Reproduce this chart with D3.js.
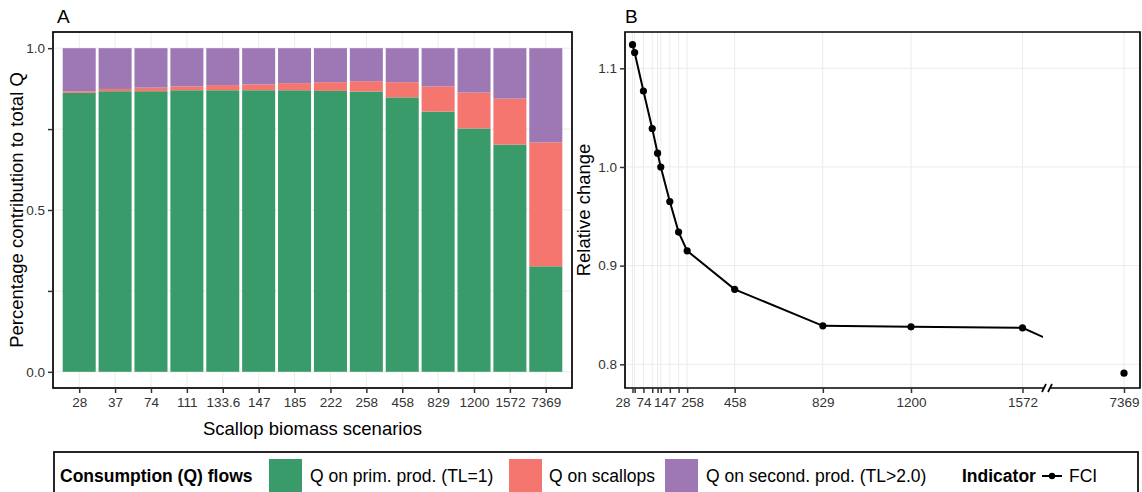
<!DOCTYPE html>
<html><head><meta charset="utf-8">
<script src="https://cdn.jsdelivr.net/npm/d3@7"></script>
<style>body{margin:0;background:#fff} text{font-family:"Liberation Sans",Arial,sans-serif}</style>
</head><body><svg id="chart" width="1142" height="492"></svg>
<script>
// ---------- data ----------
const categories = ["28","37","74","111","133.6","147","185","222","258","458","829","1200","1572","7369"];
const qPrimProd   = [0.862,0.867,0.867,0.870,0.870,0.870,0.870,0.868,0.866,0.848,0.804,0.752,0.702,0.326];
const qScallops   = [0.005,0.007,0.011,0.012,0.016,0.018,0.022,0.027,0.032,0.047,0.078,0.111,0.142,0.383];
const qSecondProd = [0.133,0.126,0.122,0.118,0.114,0.112,0.108,0.105,0.102,0.105,0.118,0.137,0.156,0.291];
const seriesKeys  = ["prim","scal","sec"];
const seriesNames = ["Q on prim. prod. (TL=1)","Q on scallops","Q on second. prod. (TL>2.0)"];
const yTicksA = [0,0.25,0.5,0.75,1];
const yTickLabelsA = ["0.0","","0.5","","1.0"];
const biomass = [28,37,74,111,133.6,147,185,222,258,458,829,1200,1572,7369];
const fci = [1.124,1.116,1.077,1.039,1.014,1.000,0.965,0.934,0.915,0.876,0.839,0.838,0.837,0.791];
const xLabelsB = [28,74,147,258,458,829,1200,1572,7369];
const yTicksB = [0.8,0.9,1.0,1.1];

// ---------- styles ----------
const colors = {prim:"#389B69", scal:"#F4766F", sec:"#9E78B5"};
const gridCol = "#EBEBEB", tickCol = "#333", textCol = "#333";
const labelNudgeB = {28:-10, 74:0, 147:4, 258:5};
const titleSize = 18.5, legendSize = 17.5, tickSize = "13.5px";

const svg = d3.select("#chart");
const A = {l:53, r:572, t:32, b:388};
const B = {l:625, r:1140, t:32, b:388};

// ---------- Panel A ----------
const xA = d3.scalePoint().domain(categories).range([A.l, A.r]).padding(0.73);
const yA = d3.scaleLinear().domain([-0.05, 1.05]).range([A.b, A.t]);
const bw = xA.step() * 0.92;

const gA = svg.append("g");
gA.append("g").selectAll("line").data(categories).join("line")
  .attr("x1", d => xA(d)).attr("x2", d => xA(d)).attr("y1", A.t).attr("y2", A.b)
  .attr("stroke", gridCol).attr("stroke-width", 1);
gA.append("g").selectAll("line").data(yTicksA).join("line")
  .attr("x1", A.l).attr("x2", A.r).attr("y1", d => yA(d)).attr("y2", d => yA(d))
  .attr("stroke", gridCol).attr("stroke-width", 1);

const rows = categories.map((c,i) => ({cat:c, prim:qPrimProd[i], scal:qScallops[i], sec:qSecondProd[i]}));
const stacked = d3.stack().keys(seriesKeys)(rows);
gA.append("g").selectAll("g").data(stacked).join("g").attr("fill", s => colors[s.key])
  .selectAll("rect").data(s => s).join("rect")
  .attr("x", d => xA(d.data.cat) - bw/2).attr("width", bw)
  .attr("y", d => yA(d[1])).attr("height", d => yA(d[0]) - yA(d[1]));

gA.append("rect").attr("x", A.l).attr("y", A.t).attr("width", A.r - A.l).attr("height", A.b - A.t)
  .attr("fill", "none").attr("stroke", "#000").attr("stroke-width", 1.7);

// axes A
const axAx = svg.append("g").attr("transform", `translate(0,${A.b})`)
  .call(d3.axisBottom(xA).tickSize(5).tickPadding(4));
const axAy = svg.append("g").attr("transform", `translate(${A.l},0)`)
  .call(d3.axisLeft(yA).tickValues(yTicksA).tickFormat((d,i) => yTickLabelsA[i]).tickSize(5).tickPadding(3));
[axAx, axAy].forEach(ax => {
  ax.select(".domain").remove();
  ax.selectAll("line").attr("stroke", tickCol).attr("stroke-width", 1.5);
  ax.selectAll("text").attr("fill", textCol).style("font-size", tickSize).style("font-family", '"Liberation Sans",Arial,sans-serif');
});

// ---------- Panel B ----------
const xB = d3.scaleLinear().domain([28, 1200, 1572, 7369]).range([632.5, 911, 1022.5, 1124]);
const yB = d3.scaleLinear().domain([0.776, 1.1368]).range([B.b, B.t]);
const gB = svg.append("g");
gB.append("g").selectAll("line").data(biomass).join("line")
  .attr("x1", d => xB(d)).attr("x2", d => xB(d)).attr("y1", B.t).attr("y2", B.b)
  .attr("stroke", gridCol).attr("stroke-width", 1);
gB.append("g").selectAll("line").data(yTicksB).join("line")
  .attr("x1", B.l).attr("x2", B.r).attr("y1", d => yB(d)).attr("y2", d => yB(d))
  .attr("stroke", gridCol).attr("stroke-width", 1);

const breakX = 1043;
svg.append("clipPath").attr("id", "clipB").append("rect")
  .attr("x", B.l).attr("y", B.t).attr("width", breakX - B.l).attr("height", B.b - B.t);
const pts = biomass.map((b,i) => [b, fci[i]]);
gB.append("path").datum(pts).attr("clip-path", "url(#clipB)")
  .attr("d", d3.line().x(d => xB(d[0])).y(d => yB(d[1])))
  .attr("fill", "none").attr("stroke", "#000").attr("stroke-width", 2);
gB.append("g").selectAll("circle").data(pts).join("circle")
  .attr("cx", d => xB(d[0])).attr("cy", d => yB(d[1])).attr("r", 3.6).attr("fill", "#000");

// border with break
const bdr = gB.append("g").attr("stroke", "#000").attr("stroke-width", 1.7).attr("fill", "none");
bdr.append("path").attr("d", `M${breakX+1},${B.b}H${B.l}V${B.t}H${B.r}V${B.b}H${breakX+7}`);
bdr.append("line").attr("x1", breakX-1).attr("y1", B.b+4).attr("x2", breakX+3).attr("y2", B.b-4);
bdr.append("line").attr("x1", breakX+5).attr("y1", B.b+4).attr("x2", breakX+9).attr("y2", B.b-4);

// axes B
const axBx = svg.append("g").attr("transform", `translate(0,${B.b})`)
  .call(d3.axisBottom(xB).tickValues(biomass).tickFormat(d => xLabelsB.includes(d) ? d : "").tickSize(5).tickPadding(4));
axBx.selectAll(".tick text").attr("dx", d => labelNudgeB[d] || 0);
const axBy = svg.append("g").attr("transform", `translate(${B.l},0)`)
  .call(d3.axisLeft(yB).tickValues(yTicksB).tickFormat(d3.format(".1f")).tickSize(5).tickPadding(3));
[axBx, axBy].forEach(ax => {
  ax.select(".domain").remove();
  ax.selectAll("line").attr("stroke", tickCol).attr("stroke-width", 1.5);
  ax.selectAll("text").attr("fill", textCol).style("font-size", tickSize).style("font-family", '"Liberation Sans",Arial,sans-serif');
});

// ---------- titles ----------
svg.append("text").attr("x", 57).attr("y", 23).attr("font-size", 19).text("A");
svg.append("text").attr("x", 625).attr("y", 23).attr("font-size", 19).text("B");
svg.append("text").attr("x", (A.l + A.r)/2).attr("y", 435).attr("text-anchor", "middle")
  .attr("font-size", titleSize).text("Scallop biomass scenarios");
svg.append("text").attr("transform", `translate(23,${(A.t+A.b)/2}) rotate(-90)`).attr("text-anchor", "middle")
  .attr("font-size", titleSize).text("Percentage contribution to total Q");
svg.append("text").attr("transform", `translate(590,${(B.t+B.b)/2}) rotate(-90)`).attr("text-anchor", "middle")
  .attr("font-size", titleSize).text("Relative change");

// ---------- legend ----------
const lg = svg.append("g");
lg.append("rect").attr("x", 54).attr("y", 452).attr("width", 1138 - 54).attr("height", 60)
  .attr("fill", "#fff").attr("stroke", "#000").attr("stroke-width", 1.7);
const ly = 482;
lg.append("text").attr("x", 60).attr("y", ly).attr("font-size", legendSize).attr("font-weight", "bold").text("Consumption (Q) flows");
const keyX = [269, 509, 665];
const textX = [310, 549, 706];
seriesKeys.forEach((k,i) => {
  lg.append("rect").attr("x", keyX[i]).attr("y", 459).attr("width", 33).attr("height", 34).attr("fill", colors[k]);
  lg.append("text").attr("x", textX[i]).attr("y", ly).attr("font-size", legendSize).text(seriesNames[i]);
});
lg.append("text").attr("x", 962).attr("y", ly).attr("font-size", legendSize).attr("font-weight", "bold").text("Indicator");
lg.append("line").attr("x1", 1042).attr("x2", 1062).attr("y1", 476).attr("y2", 476).attr("stroke", "#000").attr("stroke-width", 2);
lg.append("circle").attr("cx", 1052).attr("cy", 476).attr("r", 3.2).attr("fill", "#000");
lg.append("text").attr("x", 1069).attr("y", ly).attr("font-size", legendSize).text("FCI");
</script></body></html>
